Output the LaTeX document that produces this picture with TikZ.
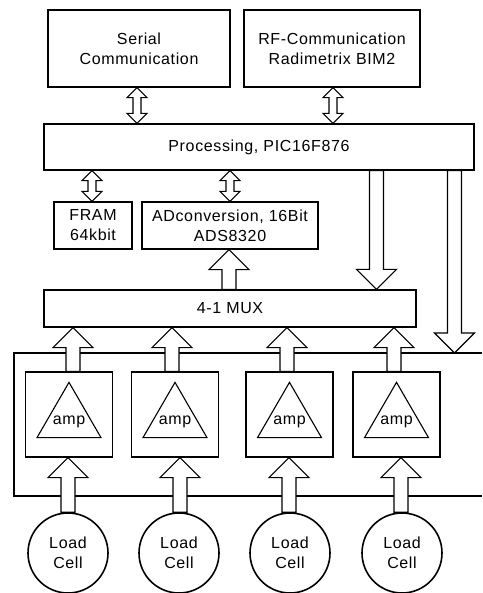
\documentclass[tikz,border=0pt]{standalone}
\usepackage{fontspec}
\setmainfont[LetterSpace=4]{Liberation Sans}
\usetikzlibrary{calc}
\tikzset{
  txt/.style={font=\fontsize{16}{20}\selectfont, align=center, inner sep=0pt},
  blk/.style={txt, draw, line width=1.3pt},
  cell/.style={txt, draw, circle, line width=1.6pt, minimum size=80pt},
  fat/.style={draw, line width=1.1pt, fill=white, line join=miter},
  bus/.style={draw, line width=1.2pt},
  tri/.style={draw, line width=1.1pt}
}
% fat single arrow from #1 (start) to the y-level of #2 (tip), at the x of #1
\newcommand\fatarrow[2]{%
  \path[fat] let \p1=#1, \p2=#2, \n1={sign(\y2-\y1)} in
    ({\x1-7},\y1) -- ({\x1-7},{\y2-(\n1)*20}) -- ({\x1-20},{\y2-(\n1)*20}) -- (\x1,\y2)
    -- ({\x1+20},{\y2-(\n1)*20}) -- ({\x1+7},{\y2-(\n1)*20}) -- ({\x1+7},\y1) -- cycle;}
% small double arrow between #1 and the y-level of #2, at the x of #1
\newcommand\dblarrow[2]{%
  \path[fat] let \p1=#1, \p2=#2, \n1={sign(\y2-\y1)} in
    (\x1,\y1) -- ({\x1+10},{\y1+(\n1)*10}) -- ({\x1+4},{\y1+(\n1)*10}) -- ({\x1+4},{\y2-(\n1)*10})
    -- ({\x1+10},{\y2-(\n1)*10}) -- (\x1,\y2) -- ({\x1-10},{\y2-(\n1)*10}) -- ({\x1-4},{\y2-(\n1)*10})
    -- ({\x1-4},{\y1+(\n1)*10}) -- ({\x1-10},{\y1+(\n1)*10}) -- cycle;}
\begin{document}
\begin{tikzpicture}[x=1pt, y=-1pt]
\useasboundingbox (0,0) rectangle (482,593);

% blocks
\node[blk, minimum width=182pt, minimum height=77pt] (serial) at (139,48.5) {Serial\\Communication};
\node[blk, minimum width=176pt, minimum height=77pt] (rf) at (332,48.5) {RF-Communication\\Radimetrix BIM2};
\node[blk, minimum width=430pt, minimum height=46pt] (proc) at (259,147) {Processing, PIC16F876};
\node[blk, minimum width=78pt, minimum height=47pt] (fram) at (93,225.5) {FRAM\\64kbit};
\node[blk, minimum width=176pt, minimum height=47pt] (adc) at (230,225.5) {ADconversion, 16Bit\\ADS8320};
\node[blk, minimum width=372pt, minimum height=37pt] (mux) at (230,308.5) {4-1 MUX};

% amplifier boxes
\foreach \i/\x in {1/69, 2/175, 3/289.5, 4/396.5} {
  \node[blk, minimum width=87pt, minimum height=85pt] (amp\i) at (\x,414.5) {};
  \draw[tri] ($(amp\i.north)+(0,11)$) -- ($(amp\i.south)+(-32,-20)$) -- ($(amp\i.south)+(32,-20)$) -- cycle;
  \node[txt] (ampt\i) at ($(amp\i.south)+(0,-36)$) {amp};
}

% load cells
\node[cell] (cell1) at (68,553) {Load\\Cell};
\node[cell] (cell2) at (179,553) {Load\\Cell};
\node[cell] (cell3) at (290,553) {Load\\Cell};
\node[cell] (cell4) at (402,553) {Load\\Cell};

% bus lines
\coordinate (busL) at (14,353);
\coordinate (busR) at (482,353);
\coordinate (busBL) at (14,496);
\coordinate (busBR) at (482,496);
\path[bus] (busR) -- (busL) -- (busBL) -- (busBR);

% double arrows
\dblarrow{([xshift=-2pt]serial.south)}{(proc.north)}
\dblarrow{([xshift=1pt]rf.south)}{(proc.north)}
\dblarrow{([xshift=-1pt]fram.north)}{(proc.south)}
\dblarrow{(adc.north)}{(proc.south)}

% fat arrows
\fatarrow{(376.5,0 |- proc.south)}{(mux.north)}
\fatarrow{(454.5,0 |- proc.south)}{(busR)}
\fatarrow{([xshift=-1pt]mux.north)}{(adc.south)}
\fatarrow{([xshift=4pt]amp1.north)}{(mux.south)}
\fatarrow{([xshift=-3pt]amp2.north)}{(mux.south)}
\fatarrow{([xshift=-2.5pt]amp3.north)}{(mux.south)}
\fatarrow{([xshift=-2.5pt]amp4.north)}{(mux.south)}
\fatarrow{(cell1.north)}{(amp1.south)}
\fatarrow{([xshift=1pt]cell2.north)}{(amp2.south)}
\fatarrow{([xshift=-1pt]cell3.north)}{(amp3.south)}
\fatarrow{([xshift=-1pt]cell4.north)}{(amp4.south)}
\end{tikzpicture}
\end{document}
